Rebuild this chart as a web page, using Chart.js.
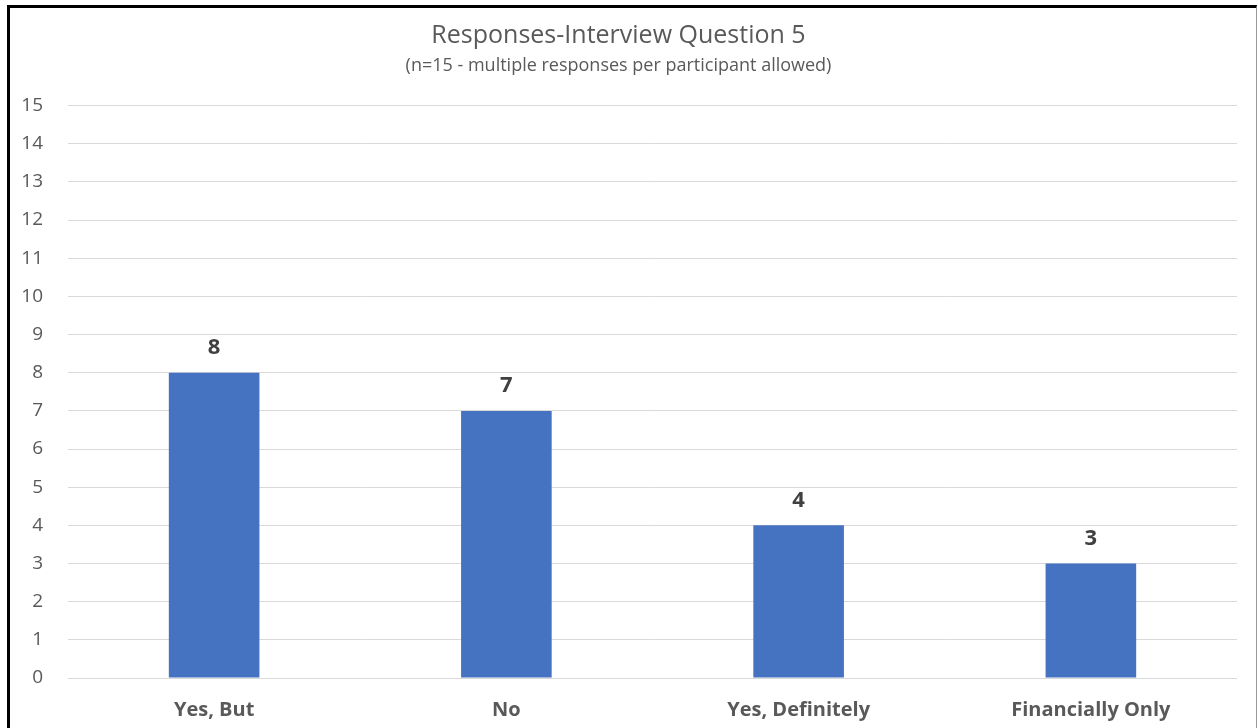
<!DOCTYPE html>
<html>
<head>
<meta charset="utf-8">
<script src="https://cdn.jsdelivr.net/npm/chart.js@4"></script>
<style>
  html, body { margin: 0; padding: 0; background: #fff; overflow: hidden; }
  #wrap { position: absolute; left: 0; top: 0; width: 1258px; height: 728px; }
  #frame {
    position: absolute; left: 7px; top: 5px; width: 1246px; height: 760px;
    border-left: 3px solid #000; border-top: 3px solid #000; border-right: 1px solid #999;
    pointer-events: none;
  }
</style>
</head>
<body>
<div id="wrap"><canvas id="chart" width="1258" height="728"></canvas></div>
<div id="frame"></div>
<script>
// data
const categories = ["Yes, But", "No", "Yes, Definitely", "Financially Only"];
const counts = [8, 7, 4, 3];
const yMax = 15;

const titleText = "Responses-Interview Question 5";
const subtitleText = "(n=15 - multiple responses per participant allowed)";

const FONT = "'Open Sans', sans-serif";
const GREY = "#595959";

// draws the value over each bar
const valueLabels = {
  id: "valueLabels",
  afterDatasetsDraw(chart) {
    const ctx = chart.ctx;
    const meta = chart.getDatasetMeta(0);
    ctx.save();
    ctx.font = "bold 22px " + FONT;
    ctx.fillStyle = "#404040";
    ctx.textAlign = "center";
    ctx.textBaseline = "middle";
    meta.data.forEach((bar, i) => {
      ctx.fillText(String(counts[i]), bar.x, bar.y - 25);
    });
    ctx.restore();
  }
};

const ctx = document.getElementById("chart").getContext("2d");
const chart = new Chart(ctx, {
  type: "bar",
  data: {
    labels: categories,
    datasets: [{
      data: counts,
      backgroundColor: "#4672C2",
      borderWidth: 0,
      barPercentage: 0.31,
      categoryPercentage: 1.0,
    }]
  },
  options: {
    responsive: false,
    animation: false,
    layout: { padding: { left: 0, right: 21, top: 0, bottom: 5 } },
    plugins: {
      legend: { display: false },
      tooltip: { enabled: false },
      title: {
        display: true,
        text: titleText,
        color: GREY,
        font: { family: FONT, size: 25, weight: "normal" },
        padding: { top: 21, bottom: 4 },
      },
      subtitle: {
        display: true,
        text: subtitleText,
        color: GREY,
        font: { family: FONT, size: 18, weight: "normal" },
        padding: { top: 0, bottom: 29 },
      },
    },
    scales: {
      x: {
        afterFit(scale) { scale.height = 45; },
        grid: { display: false, drawTicks: false },
        border: { display: false },
        ticks: {
          color: GREY,
          font: { family: FONT, size: 20, weight: "bold" },
          padding: 20,
          maxRotation: 0,
        },
      },
      y: {
        min: 0,
        max: yMax,
        afterFit(scale) { scale.width = 68; },
        grid: { color: "#d9d9d9", lineWidth: 1, drawTicks: false },
        border: { display: false },
        ticks: {
          stepSize: 1,
          color: GREY,
          font: { family: FONT, size: 19 },
          padding: 25,
        },
      },
    },
  },
  plugins: [valueLabels],
});
</script>
</body>
</html>
